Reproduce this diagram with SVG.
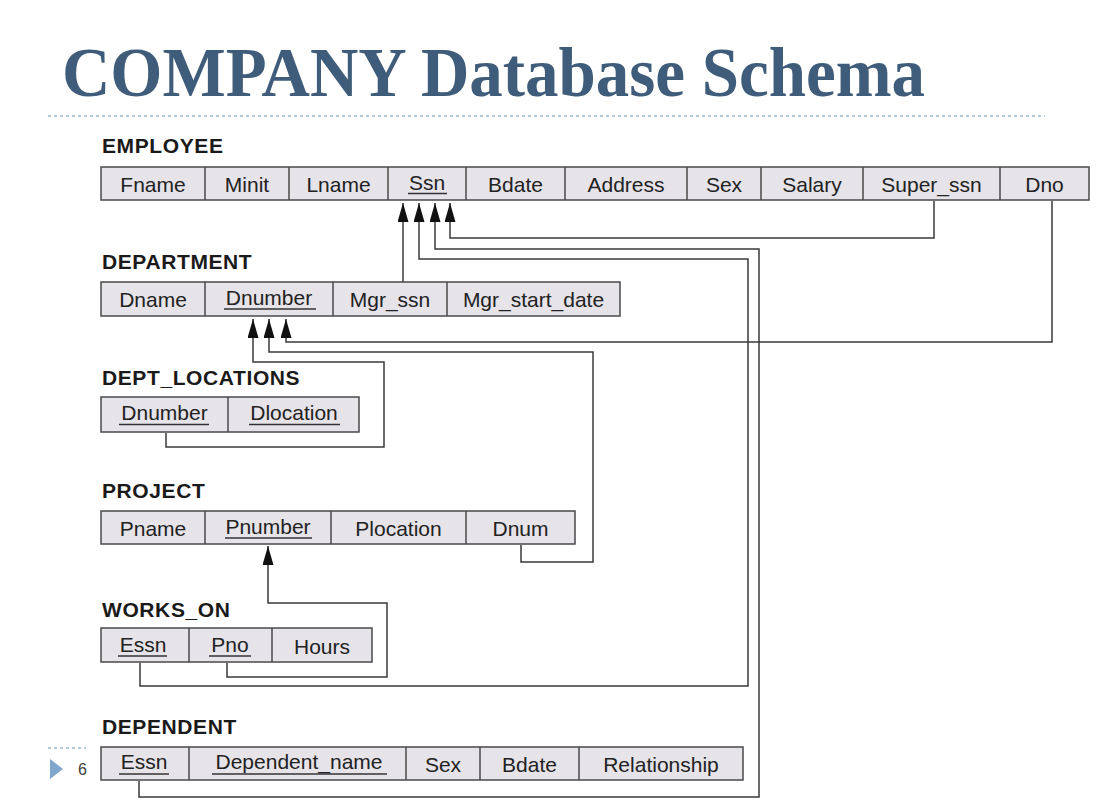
<svg xmlns="http://www.w3.org/2000/svg" width="1100" height="804" viewBox="0 0 1100 804">
<defs>
<marker id="ah" viewBox="0 0 19 11" refX="19" refY="5.5" markerWidth="19" markerHeight="11" markerUnits="userSpaceOnUse" orient="auto">
<path d="M0,0 L19,5.5 L0,11 z" fill="#111"/>
</marker>
<style>
.tbl{fill:#E6E4E9;stroke:#4a4a4a;stroke-width:1.5}
.div{stroke:#4a4a4a;stroke-width:1.5}
.lbl{font-family:"Liberation Sans",Arial,sans-serif;font-weight:bold;font-size:21px;fill:#1a1a1a;letter-spacing:0.6px}
.cell{font-family:"Liberation Sans",Arial,sans-serif;font-size:21px;fill:#222;text-anchor:middle}
.ul{stroke:#333;stroke-width:1.5}
.con{fill:none;stroke:#3a3a3a;stroke-width:1.5}
.arr{fill:none;stroke:#3a3a3a;stroke-width:1.5;marker-end:url(#ah)}
</style>
</defs>
<rect width="1100" height="804" fill="#fff"/>
<g id="title">
<text x="62" y="96" font-family="'Liberation Serif','Times New Roman',serif" font-weight="bold" font-size="70" fill="#3F5D7B" textLength="863" lengthAdjust="spacingAndGlyphs">COMPANY Database Schema</text>
<line x1="48" y1="116" x2="1045" y2="116" stroke="#9DB8D8" stroke-width="1.5" stroke-dasharray="3,3"/>
</g>
<g id="footer">
<line x1="48" y1="748" x2="86" y2="748" stroke="#9DB8D8" stroke-width="1.5" stroke-dasharray="3,3"/>
<polygon points="50,759 63,769 50,779" fill="#7FA6CC"/>
<text x="78" y="775" font-family="'Liberation Sans',Arial,sans-serif" font-size="16" fill="#404040">6</text>
</g>
<g id="employee">
<text class="lbl" x="102" y="153">EMPLOYEE</text>
<rect class="tbl" x="101" y="167" width="988" height="33"/>
<path class="div" d="M205,167V200M289,167V200M388,167V200M466,167V200M565,167V200M687,167V200M761,167V200M863,167V200M1000,167V200"/>
<text class="cell" x="153" y="192">Fname</text>
<text class="cell" x="247" y="192">Minit</text>
<text class="cell" x="338.5" y="192">Lname</text>
<text class="cell" x="427" y="190">Ssn</text>
<line class="ul" x1="408" y1="193.5" x2="447" y2="193.5"/>
<text class="cell" x="515.5" y="192">Bdate</text>
<text class="cell" x="626" y="192">Address</text>
<text class="cell" x="724" y="192">Sex</text>
<text class="cell" x="812" y="192">Salary</text>
<text class="cell" x="931.5" y="192">Super_ssn</text>
<text class="cell" x="1044.5" y="192">Dno</text>
</g>
<g id="department">
<text class="lbl" x="102" y="269">DEPARTMENT</text>
<rect class="tbl" x="101" y="282" width="519" height="34"/>
<path class="div" d="M205,282V316M333,282V316M447,282V316"/>
<text class="cell" x="153" y="307">Dname</text>
<text class="cell" x="269" y="305">Dnumber</text>
<line class="ul" x1="224" y1="309" x2="316" y2="309"/>
<text class="cell" x="390" y="307">Mgr_ssn</text>
<text class="cell" x="533.5" y="307">Mgr_start_date</text>
</g>
<g id="dept_locations">
<text class="lbl" x="102" y="385">DEPT_LOCATIONS</text>
<rect class="tbl" x="101" y="397" width="258" height="35"/>
<path class="div" d="M228,397V432"/>
<text class="cell" x="164.5" y="420">Dnumber</text>
<line class="ul" x1="119" y1="424.5" x2="209" y2="424.5"/>
<text class="cell" x="294" y="420">Dlocation</text>
<line class="ul" x1="249" y1="424.5" x2="340" y2="424.5"/>
</g>
<g id="project">
<text class="lbl" x="102" y="498">PROJECT</text>
<rect class="tbl" x="101" y="511" width="474" height="33"/>
<path class="div" d="M205,511V544M331,511V544M466,511V544"/>
<text class="cell" x="153" y="536">Pname</text>
<text class="cell" x="268" y="534">Pnumber</text>
<line class="ul" x1="225" y1="538" x2="312" y2="538"/>
<text class="cell" x="398.5" y="536">Plocation</text>
<text class="cell" x="520.5" y="536">Dnum</text>
</g>
<g id="works_on">
<text class="lbl" x="102" y="617">WORKS_ON</text>
<rect class="tbl" x="101" y="628" width="271" height="34"/>
<path class="div" d="M189,628V662M272,628V662"/>
<text class="cell" x="143" y="652">Essn</text>
<line class="ul" x1="118" y1="656" x2="167" y2="656"/>
<text class="cell" x="230" y="652">Pno</text>
<line class="ul" x1="209" y1="656" x2="251" y2="656"/>
<text class="cell" x="322" y="654">Hours</text>
</g>
<g id="dependent">
<text class="lbl" x="102" y="734">DEPENDENT</text>
<rect class="tbl" x="101" y="747" width="642" height="33"/>
<path class="div" d="M189,747V780M406,747V780M480,747V780M579,747V780"/>
<text class="cell" x="144" y="769">Essn</text>
<line class="ul" x1="119" y1="774" x2="169" y2="774"/>
<text class="cell" x="299" y="769">Dependent_name</text>
<line class="ul" x1="212" y1="774" x2="387" y2="774"/>
<text class="cell" x="443" y="772">Sex</text>
<text class="cell" x="529.5" y="772">Bdate</text>
<text class="cell" x="661" y="772">Relationship</text>
</g>
<g id="connectors">
<path class="arr" d="M403,282V203"/>
<path class="arr" d="M140,663V686H748V259H419V203"/>
<path class="arr" d="M139,781V797H759V249H435V203"/>
<path class="arr" d="M934,201V238H450V203"/>
<path class="arr" d="M1052,201V342H286V319"/>
<path class="arr" d="M521,545V562H593V352H269V319"/>
<path class="arr" d="M166,433V447H384V362H253V319"/>
<path class="arr" d="M227,663V677H387V603H268V546"/>
</g>
</svg>
